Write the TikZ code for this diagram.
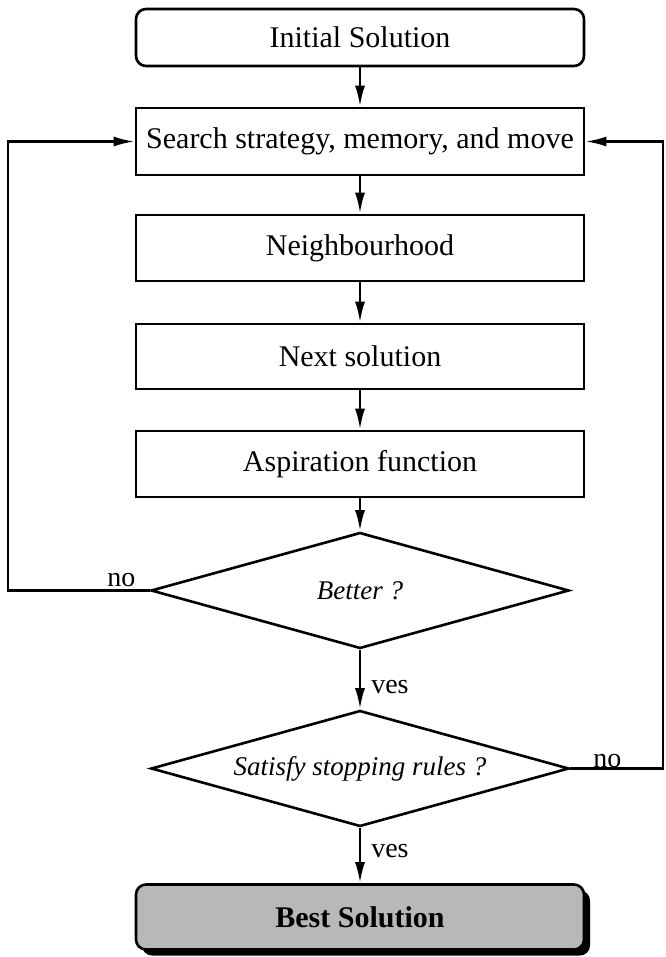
\documentclass[tikz,border=0pt]{standalone}
\usepackage{ fontspec }
\usepackage{ tikz }
\usetikzlibrary{ arrows.meta, shapes.geometric, shadows }
\setmainfont{Liberation Serif}

\begin{document}
\begin{tikzpicture}[x=1pt, y=-1pt, line width=2.6pt,
    box/.style={draw, minimum width=448pt, inner sep=0pt, font=\fontsize{30}{36}\selectfont},
    test/.style={draw, diamond, aspect=3.6, inner sep=0pt, minimum width=418pt, minimum height=116pt,
      font=\fontsize{27}{32}\selectfont\itshape},
    lbl/.style={font=\fontsize{28}{32}\selectfont, inner sep=2pt},
    arr/.style={-{Latex[length=21pt, width=10pt]}}]
  \useasboundingbox (0,0) rectangle (665,957);

  % Boxes
  \node[box, rounded corners=10pt, minimum height=57pt] (init) at (360,37.5) {Initial Solution};
  \node[box, minimum height=67pt] (search) at (360,141.5) {Search strategy, memory, and move};
  \node[box, minimum height=66pt] (neigh) at (360,248) {Neighbourhood};
  \node[box, minimum height=65pt] (next) at (360,356.5) {Next solution};
  \node[box, minimum height=66pt] (aspir) at (360,464) {Aspiration function};

  % Decisions
  \node[test] (better) at (360,590.5) {Better ?};
  \node[test] (stop) at (360,768.5) {Satisfy stopping rules ?};

  % Final box
  \node[box, rounded corners=10pt, minimum height=65pt, fill=black!28,
    drop shadow={shadow xshift=6pt, shadow yshift=-6pt, fill=black, opacity=1},
    font=\fontsize{30}{36}\selectfont\bfseries] (best) at (360,917) {Best Solution};

  % Main flow
  \draw[arr] (init) -- (search);
  \draw[arr] (search) -- (neigh);
  \draw[arr] (neigh) -- (next);
  \draw[arr] (next) -- (aspir);
  \draw[arr] (aspir) -- (better);
  \draw[arr] (better) -- node[lbl, right, pos=0.62, xshift=8pt]{ves} (stop);
  \draw[arr] (stop) -- node[lbl, right, pos=0.42, xshift=8pt]{ves} (best);

  % Loops back to the search
  \coordinate (lcorner) at (8,590.5);
  \coordinate (rcorner) at (663,768.5);
  \draw[arr] (better.west) -- node[lbl, above, pos=0.2]{no} (lcorner) |- (search.west);
  \draw[arr] (stop.east) -- node[lbl, anchor=base, pos=0.4, yshift=1pt]{no} (rcorner) |- (search.east);
\end{tikzpicture}
\end{document}
